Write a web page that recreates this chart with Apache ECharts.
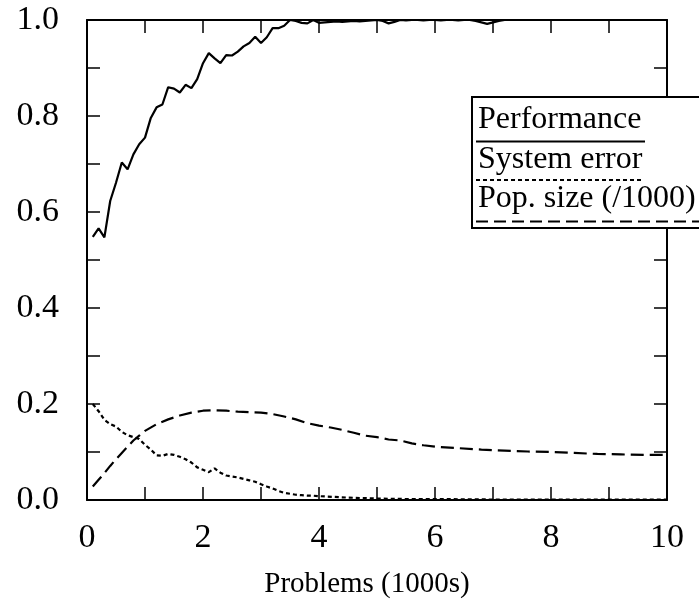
<!DOCTYPE html>
<html>
<head>
<meta charset="utf-8">
<script src="https://cdn.jsdelivr.net/npm/echarts@6/dist/echarts.min.js"></script>
<style>html,body{margin:0;padding:0;background:#fff;}#c{width:699px;height:604px;}</style>
</head>
<body>
<div id="c"></div>
<script>
var xTickLabels = ['0', '2', '4', '6', '8', '10'];
var yTickLabels = ['0.0', '0.2', '0.4', '0.6', '0.8', '1.0'];
var seriesNames = ['Performance', 'System error', 'Pop. size (/1000)'];
var axisName = 'Problems (1000s)';

var perfX = [0.1,0.2,0.3,0.4,0.5,0.6,0.7,0.8,0.9,1.0,1.1,1.2,1.3,1.4,1.5,1.6,1.7,1.8,1.9,2.0,
  2.1,2.2,2.3,2.4,2.5,2.6,2.7,2.8,2.9,3.0,3.1,3.2,3.3,3.4,3.5,3.6,3.7,3.8,3.9,4.0,
  4.1,4.2,4.3,4.4,4.5,4.6,4.7,4.8,4.9,5.0,5.1,5.2,5.3,5.4,5.5,5.6,5.7,5.8,5.9,6.0,
  6.1,6.2,6.3,6.4,6.5,6.6,6.7,6.8,6.9,7.0,7.1,7.2,7.3,7.4,7.5,7.6,7.7,7.8,7.9,8.0,
  8.1,8.2,8.3,8.4,8.5,8.6,8.7,8.8,8.9,9.0,9.1,9.2,9.3,9.4,9.5,9.6,9.7,9.8,9.9,10.0];
var perfY = [0.548,0.566,0.547,0.623,0.661,0.703,0.689,0.720,0.741,0.755,
  0.796,0.818,0.824,0.860,0.857,0.849,0.865,0.858,0.877,0.910,
  0.931,0.920,0.910,0.927,0.926,0.934,0.945,0.952,0.965,0.952,
  0.964,0.983,0.983,0.988,1.000,0.998,0.994,0.993,1.000,0.994,
  0.995,0.996,0.997,0.996,0.997,0.998,0.997,0.998,0.999,1.000,
  0.998,0.993,0.996,1.000,0.999,1.000,1.000,0.999,1.000,1.000,
  0.999,1.000,1.000,0.999,1.000,1.000,0.998,0.995,0.992,0.995,
  0.998,1.000,1.000,1.000,1.000,1.000,1.000,1.000,1.000,1.000,
  1.000,1.000,1.000,1.000,1.000,1.000,1.000,1.000,1.000,1.000,
  1.000,1.000,1.000,1.000,1.000,1.000,1.000,1.000,1.000,1.000];

var errX = [0.1,0.2,0.3,0.4,0.5,0.6,0.7,0.8,0.9,1.0,1.1,1.2,1.3,1.4,1.5,1.6,1.7,1.8,1.9,2.0,
  2.1,2.2,2.3,2.4,2.5,2.6,2.7,2.8,2.9,3.0,3.1,3.2,3.3,3.4,3.5,3.6,3.7,3.8,3.9,4.0,
  4.5,5.0,5.5,6.0,7.0,8.0,9.0,10.0];
var errY = [0.200,0.185,0.167,0.158,0.153,0.142,0.135,0.131,0.127,0.115,
  0.105,0.093,0.092,0.096,0.094,0.090,0.085,0.078,0.068,0.063,
  0.058,0.066,0.057,0.051,0.049,0.047,0.044,0.041,0.038,0.033,
  0.028,0.024,0.019,0.015,0.013,0.011,0.010,0.009,0.009,0.008,
  0.005,0.003,0.002,0.002,0.001,0.001,0.001,0.001];

var popX = [0.1,0.2,0.3,0.4,0.5,0.6,0.7,0.8,0.9,1.0,1.2,1.4,1.6,1.8,2.0,2.2,2.4,2.6,2.8,3.0,
  3.2,3.4,3.6,3.8,4.0,4.2,4.4,4.6,4.8,5.0,5.2,5.4,5.6,5.8,6.0,6.4,6.8,7.2,7.6,8.0,
  8.4,8.8,9.2,9.6,10.0];
var popY = [0.028,0.042,0.056,0.071,0.085,0.098,0.111,0.124,0.134,0.144,
  0.158,0.168,0.176,0.182,0.186,0.187,0.186,0.184,0.183,0.182,
  0.179,0.174,0.168,0.160,0.155,0.151,0.146,0.140,0.134,0.131,
  0.126,0.124,0.118,0.114,0.111,0.108,0.105,0.103,0.101,0.100,
  0.098,0.096,0.095,0.094,0.094];

function pairs(xs, ys) { return xs.map(function (x, i) { return [x, ys[i]]; }); }

var FONT = '"Liberation Serif", "Times New Roman", serif';
var lineCol = '#000';

function xAxisDef(pos, show) {
  return {
    type: 'value', position: pos, min: 0, max: 10, interval: 1,
    axisLine: { show: true, onZero: false, lineStyle: { color: lineCol, width: 2 } },
    axisTick: { show: true, inside: true, length: 13, lineStyle: { color: lineCol, width: 1.5 } },
    splitLine: { show: false },
    axisLabel: {
      show: show, margin: 21, color: '#000', fontFamily: FONT, fontSize: 34,
      formatter: function (v) {
        var r = Math.round(v);
        return (r % 2 === 0) ? xTickLabels[r / 2] : '';
      }
    },
    name: show ? axisName : '',
    nameLocation: 'middle', nameGap: 70,
    nameTextStyle: { color: '#000', fontFamily: FONT, fontSize: 29, padding: [0, 20, 0, 0] }
  };
}
function yAxisDef(pos, show) {
  return {
    type: 'value', position: pos, min: 0, max: 1, interval: 0.1,
    axisLine: { show: true, onZero: false, lineStyle: { color: lineCol, width: 2 } },
    axisTick: { show: true, inside: true, length: 13, lineStyle: { color: lineCol, width: 1.5 } },
    splitLine: { show: false },
    axisLabel: {
      show: show, margin: 28, color: '#000', fontFamily: FONT, fontSize: 34,
      formatter: function (v) {
        var r = Math.round(v * 10);
        return (r % 2 === 0) ? yTickLabels[r / 2] : '';
      }
    }
  };
}

var chart = echarts.init(document.getElementById('c'), null, { renderer: 'canvas' });
var LX = 472, LY = 97;
chart.setOption({
  animation: false,
  backgroundColor: '#fff',
  grid: { left: 87, right: 32, top: 20, bottom: 102, containLabel: false },
  xAxis: [xAxisDef('bottom', true), xAxisDef('top', false)],
  yAxis: [yAxisDef('left', true), yAxisDef('right', false)],
  series: [
    { name: seriesNames[0], type: 'line', data: pairs(perfX, perfY), showSymbol: false, clip: false,
      lineStyle: { color: '#000', width: 2.2, type: 'solid' } },
    { name: seriesNames[1], type: 'line', data: pairs(errX, errY), showSymbol: false,
      lineStyle: { color: '#000', width: 2.2, type: [4, 3] } },
    { name: seriesNames[2], type: 'line', data: pairs(popX, popY), showSymbol: false,
      lineStyle: { color: '#000', width: 2.2, type: [13, 6] } }
  ],
  graphic: [
    { type: 'rect', z: 100, shape: { x: LX, y: LY, width: 260, height: 131 },
      style: { fill: '#fff', stroke: '#000', lineWidth: 2 } },
    { type: 'text', z: 101, style: { x: 478, y: 120, text: seriesNames[0], font: '32px ' + FONT, fill: '#000', verticalAlign: 'middle' } },
    { type: 'line', z: 101, shape: { x1: 476, y1: 141.5, x2: 645, y2: 141.5 }, style: { stroke: '#000', lineWidth: 2 } },
    { type: 'text', z: 101, style: { x: 478, y: 160, text: seriesNames[1], font: '32px ' + FONT, fill: '#000', verticalAlign: 'middle' } },
    { type: 'line', z: 101, shape: { x1: 476, y1: 180, x2: 642, y2: 180 }, style: { stroke: '#000', lineWidth: 2, lineDash: [4, 3] } },
    { type: 'text', z: 101, style: { x: 478, y: 199, text: seriesNames[2], font: '32px ' + FONT, fill: '#000', verticalAlign: 'middle' } },
    { type: 'line', z: 101, shape: { x1: 476, y1: 221.5, x2: 705, y2: 221.5 }, style: { stroke: '#000', lineWidth: 2, lineDash: [12, 6] } }
  ]
});
</script>
</body>
</html>
